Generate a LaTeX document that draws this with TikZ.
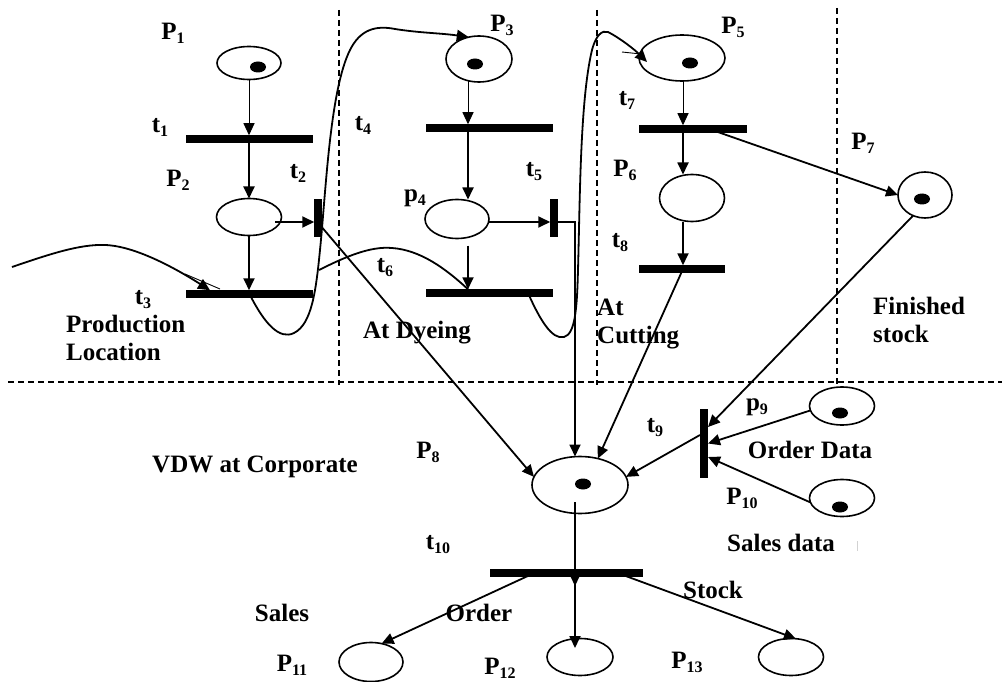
\documentclass[tikz,border=0pt]{standalone}
\usepackage{fontspec}
\setmainfont{Liberation Serif}
\usetikzlibrary{arrows.meta,shapes.geometric,calc}
% lowered subscript for place and transition names
\newcommand\sbs[1]{\raisebox{-4pt}{\fontsize{16}{16}\selectfont #1}}
\begin{document}
\begin{tikzpicture}[x=1pt,y=-1pt,
  place/.style={ellipse,draw,line width=1.6pt,inner sep=0pt,outer sep=0pt},
  hbar/.style={rectangle,fill=black,inner sep=0pt,outer sep=0pt,minimum height=7.5pt},
  vbar/.style={rectangle,fill=black,inner sep=0pt,outer sep=0pt,minimum width=7.5pt},
  arr/.style={line width=1.8pt,-{Triangle[length=12pt,width=11pt]}},
  thinarr/.style={line width=0.9pt,-{Triangle[length=12pt,width=11pt]}},
  wire/.style={line width=1.8pt},
  zone/.style={line width=1.2pt,dash pattern=on 6pt off 4pt},
  lbl/.style={font=\fontsize{25}{28}\selectfont\bfseries,inner sep=0pt},
  mlbl/.style={lbl,align=left,anchor=west}]
\path[use as bounding box] (0,0) rectangle (1002,682);

% swim-lane separators
\draw[zone] (339,10) -- (339,385);
\draw[zone] (597,10) -- (597,385);
\draw[zone] (837,8) -- (837,385);
\draw[zone] (8,382) -- (1002,382);

% places
\node[place,minimum width=64pt,minimum height=33pt] (P1) at (249,63) {};
\node[place,minimum width=65pt,minimum height=37pt] (P2) at (249,217) {};
\node[place,minimum width=66pt,minimum height=46pt] (P3) at (479,59) {};
\node[place,minimum width=64pt,minimum height=39pt] (p4) at (457,219) {};
\node[place,minimum width=86pt,minimum height=46pt] (P5) at (682,58) {};
\node[place,minimum width=65pt,minimum height=47pt] (P6) at (692,198) {};
\node[place,minimum width=54pt,minimum height=46pt] (P7) at (925,195) {};
\node[place,minimum width=96pt,minimum height=57pt] (P8) at (580,485) {};
\node[place,minimum width=65pt,minimum height=38pt] (p9) at (842,406) {};
\node[place,minimum width=65pt,minimum height=37pt] (P10) at (842,498) {};
\node[place,minimum width=64pt,minimum height=39pt] (P11) at (371,662) {};
\node[place,minimum width=66pt,minimum height=37pt] (P12) at (580,657) {};
\node[place,minimum width=65pt,minimum height=37pt] (P13) at (791,657) {};

% tokens
\foreach \p/\dx/\dy in {P1/9/4,P3/-4/5,P5/8/5,P7/-3/4,P8/3/-1,p9/-2/7,P10/-2/9}
  \fill ([shift={(\dx,\dy)}]\p.center) ellipse [x radius=8pt,y radius=5.5pt];

% transitions
\node[hbar,minimum width=127pt] (t1) at (249.5,139) {};
\node[vbar,minimum height=38pt] (t2) at (318,218) {};
\node[hbar,minimum width=127pt] (t3) at (249.5,294) {};
\node[hbar,minimum width=127pt] (t4) at (489.5,128) {};
\node[vbar,minimum height=38pt] (t5) at (554,218) {};
\node[hbar,minimum width=127pt] (t6) at (489.5,293) {};
\node[hbar,minimum width=108pt] (t7) at (693,129) {};
\node[hbar,minimum width=86pt] (t8) at (682,269) {};
\node[vbar,minimum height=69pt] (t9) at (704,443.5) {};
\node[hbar,minimum width=153pt,minimum height=8pt] (t10) at (566.5,573) {};

% helper points on the arcs
\coordinate (c3) at ([shift={(-11,-1)}]P3.south);
\coordinate (c5) at ([xshift=1pt]P5.south);
\coordinate (inflow) at (12,267);
\coordinate (split) at (319,270);

% production location
\draw[thinarr] (P1.south) -- (P1.south |- t1.north);
\draw[arr] (t1.south -| P1) -- (P2.north);
\draw[arr] ([shift={(26,5)}]P2.center) -- ([shift={(0,4)}]t2.west);
\draw[arr] (P2.south) -- (P2.south |- t3.north);
\draw[arr] (inflow) .. controls (50,254) and (80,244) .. (105,245)
  .. controls (135,246) and (175,268) .. ([xshift=-39.5pt]t3.north);
\draw[line width=0.9pt] (185,274) -- (220,289);

% transfer to dyeing
\draw[arr] (t3.center) .. controls (265,325) and (280,340) .. (294,333)
  .. controls (312,324) and (316,290) .. (320,250)
  .. controls (326,190) and (330,90) .. (350,50)
  .. controls (360,30) and (375,25) .. (395,29)
  .. controls (420,33) and (440,33) .. (P3.115);
\draw[wire] (split) .. controls (345,257) and (370,246) .. (392,248)
  .. controls (420,250) and (445,268) .. (t6.north -| c3);

% dyeing
\draw[thinarr] (c3) -- (c3 |- t4.north);
\draw[arr] (t4.south -| c3) -- (p4.north -| c3);
\draw[arr] ([shift={(32,3)}]p4.center) -- ([shift={(0,4)}]t5.west);
\draw[arr] ([shift={(11,7)}]p4.south) -- (t6.north -| c3);

% transfer to cutting
\draw[arr] ([xshift=38.5pt]t6.center) .. controls (540,320) and (552,340) .. (564,337)
  .. controls (575,334) and (577,310) .. (578,270)
  .. controls (580,200) and (580,100) .. (592,50)
  .. controls (596,35) and (602,30) .. (608,32)
  .. controls (620,38) and (635,50) .. ([shift={(-35,4)}]P5.center);
\draw[line width=0.9pt] (622,52) -- (641,54);

% cutting and finished stock
\draw[thinarr] (c5) -- (c5 |- t7.north);
\draw[arr] (t7.south -| c5) -- (P6.north -| c5);
\draw[arr] ([xshift=-9pt]P6.south) -- ([xshift=-9pt]P6.south |- t8.north);
\draw[arr] ([shift={(19,1)}]t7.center) -- (P7.west);

% feeds into the data warehouse
\draw[arr] ([shift={(2,7)}]t2.center) -- (P8.170);
\draw[arr] ([shift={(0,4)}]t5.east) -| ([xshift=-5pt]P8.north);
\draw[arr] ([xshift=1pt]t8.center) -- (P8.56);
\draw[arr] (P7.240) -- ([shift={(4,-16.5)}]t9.center);
\draw[arr] (p9.188) -- ([shift={(4,0)}]t9.center);
\draw[arr] (P10.188) -- ([shift={(4,13.5)}]t9.center);
\draw[arr] ([shift={(-4,-8.5)}]t9.center) -- (P8.10);
\draw[gray!35,line width=0.8pt] (857,541) -- (857,551);

% outputs
\draw[arr] ([shift={(-5,17)}]P8.center) -- ([shift={(-5,17)}]P8.center |- t10.north);
\draw[arr] ([shift={(-36.5,2)}]t10.center) -- (P11.60);
\draw[arr] ([shift={(8.5,4)}]t10.center) -- ([shift={(-5,-9)}]P12.center);
\draw[arr] ([shift={(56.5,2)}]t10.center) -- (P13.75);

% labels
\node[lbl] (lP1) at (173,33) {P\sbs{1}};
\node[lbl] (lt1) at (160,127) {t\sbs{1}};
\node[lbl] (lP2) at (178,180) {P\sbs{2}};
\node[lbl] (lt2) at (298,173) {t\sbs{2}};
\node[lbl] (lt3) at (143,300) {t\sbs{3}};
\node[lbl] (lP3) at (502,25) {P\sbs{3}};
\node[lbl] (lt4) at (363,125) {t\sbs{4}};
\node[lbl] (lp4) at (415,198) {p\sbs{4}};
\node[lbl] (lt5) at (534,172) {t\sbs{5}};
\node[lbl] (lt6) at (385,268) {t\sbs{6}};
\node[lbl] (lP5) at (733,27) {P\sbs{5}};
\node[lbl] (lt7) at (627,100) {t\sbs{7}};
\node[lbl] (lP6) at (625,170) {P\sbs{6}};
\node[lbl] (lt8) at (620,243) {t\sbs{8}};
\node[lbl] (lP7) at (863,143) {P\sbs{7}};
\node[lbl] (lP8) at (428,452) {P\sbs{8}};
\node[lbl] (lt9) at (655,428) {t\sbs{9}};
\node[lbl] (lp9) at (757,407) {p\sbs{9}};
\node[lbl] (lP10) at (742,498) {P\sbs{10}};
\node[lbl] (lt10) at (438,545) {t\sbs{10}};
\node[lbl] (lP11) at (292,665) {P\sbs{11}};
\node[lbl] (lP12) at (500,668) {P\sbs{12}};
\node[lbl] (lP13) at (687,662) {P\sbs{13}};

\node[mlbl] (zone1) at (66,338) {Production\\Location};
\node[lbl] (zone2) at (417,333) {At Dyeing};
\node[mlbl] (zone3) at (597,324) {At\\Cutting};
\node[mlbl] (zone4) at (873,320) {Finished\\stock};
\node[lbl,anchor=west] (vdw) at (152,467) {VDW at Corporate};
\node[lbl] (ord) at (810,450) {Order Data};
\node[lbl] (sal) at (781,543) {Sales data};
\node[lbl] (o1) at (282,613) {Sales};
\node[lbl] (o2) at (479,613) {Order};
\node[lbl] (o3) at (713,590) {Stock};
\end{tikzpicture}
\end{document}
